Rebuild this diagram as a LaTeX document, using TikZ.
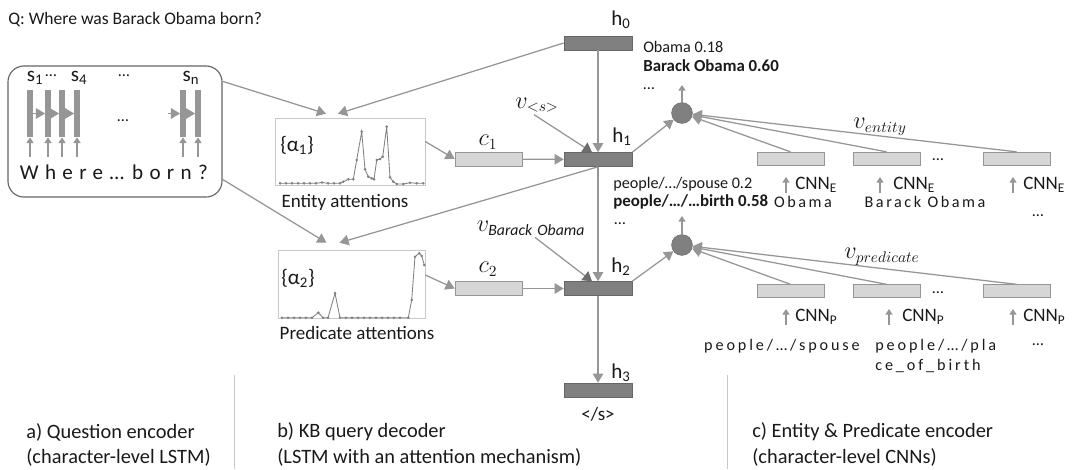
\documentclass[tikz,border=0pt]{standalone}
\usepackage{fontspec}
\setmainfont{Carlito}
\usetikzlibrary{arrows.meta,positioning,calc}
\definecolor{darkbox}{RGB}{128,128,128}
\definecolor{lightbox}{RGB}{214,214,214}
\definecolor{arrgray}{RGB}{150,150,150}
\definecolor{framegray}{RGB}{100,100,100}
\definecolor{sepgray}{RGB}{200,200,200}
\definecolor{ink}{RGB}{25,25,25}

\begin{document}
\begin{tikzpicture}[x=0.025cm,y=-0.025cm,
  every node/.style={font=\fontsize{12.5}{14}\selectfont,inner sep=0pt,text=ink},
  hbox/.style={draw=darkbox!80!black,fill=darkbox,minimum width=1.7cm,minimum height=0.35cm},
  cbox/.style={draw=arrgray,fill=lightbox,minimum width=1.675cm,minimum height=0.34cm},
  sbox/.style={draw=arrgray,fill=lightbox,minimum width=1.675cm,minimum height=0.32cm},
  score/.style={circle,draw=darkbox!85!black,fill=darkbox,minimum size=0.52cm},
  plotframe/.style={draw=sepgray,line width=0.4pt},
  ln/.style={draw=arrgray,line width=0.9pt},
  arr/.style={ln,-{Triangle[width=7.5pt,length=6.5pt]}},
  varr/.style={ln,-{Triangle[width=8pt,length=6.5pt,color=darkbox!85!black]}},
  smallarr/.style={ln,-{Triangle[width=5pt,length=4pt]}},
  small/.style={font=\fontsize{11.5}{13}\selectfont},
  bsmall/.style={font=\fontsize{12}{13}\selectfont\bfseries},
  spaced/.style={font=\fontsize{11.5}{13}\selectfont\addfontfeature{LetterSpace=18}},
  espaced/.style={font=\fontsize{11.5}{13}\selectfont\addfontfeature{LetterSpace=16}},
  lab/.style={font=\fontsize{13.5}{15}\selectfont},
  hlab/.style={font=\fontsize{15}{17}\selectfont},
  mlab/.style={font=\fontsize{16}{18}\selectfont},
  caption/.style={font=\fontsize{14.5}{16}\selectfont,anchor=west},
]
\useasboundingbox (0,0) rectangle (1072,469);

% question
\node[anchor=west] (q) at (8,20) {Q: Where was Barack Obama born?};

% question encoder
\node[draw=framegray,line width=0.8pt,rounded corners=0.4cm,minimum width=5.35cm,minimum height=3.275cm] (enc) at (115,131.5) {};
\foreach \x [count=\i] in {30,48,62,77,183,198} {
  \node[fill=arrgray,minimum width=0.13cm,minimum height=1.18cm] (bar\i) at (\x,113.5) {};
  \coordinate (in\i) at (\x,157);
  \draw[smallarr] (in\i) -- (bar\i.south);
}
\foreach \a/\b in {1/2,2/3,3/4,5/6}
  \draw[arr] (bar\a) -- (bar\b);
\coordinate (pre5) at (168,113.5);
\draw[arr] (pre5) -- (bar5);
\node[hlab] (s1) at (35,78) {s\textsubscript{1}};
\node[small] (sd1) at (51,76) {…};
\node[hlab] (s4) at (79,78) {s\textsubscript{4}};
\node[small] (sd2) at (124,76) {…};
\node[hlab] (sn) at (191,78) {s\textsubscript{n}};
\node[small] (md) at (123,121) {…};
\node[font=\fontsize{15}{17}\selectfont\addfontfeature{LetterSpace=30}] (w1) at (72,172) {Where…};
\node[font=\fontsize{15}{17}\selectfont\addfontfeature{LetterSpace=30}] (w2) at (170,172) {born?};

% attention plots
\node[plotframe,minimum width=3.75cm,minimum height=1.675cm] (entplot) at (350,151.5) {};
\draw[darkbox,line width=0.6pt,mark=*,mark size=0.6pt] plot coordinates {
  (280,183.3) (286,183.3) (292,183.3) (298,183.3) (304,183.3) (310,183.3) (316,183.3)
  (322,182.5) (328,183.3) (334,183.3) (340,183.3) (343.3,181.7) (348.3,179.3)
  (353.3,179.3) (356.7,160) (361.7,131.7) (365,169.3) (368.3,176.7) (371.7,178.3)
  (374,179.3) (376.7,160) (380,159) (382.7,156.7) (386.7,126.7) (390,177.3)
  (393.3,181.7) (396.7,184) (403.3,184) (410,182.7) (416.7,183.3) (423.3,183.3)};
\node[hlab] (a1) at (297,145) {\{α\textsubscript{1}\}};
\node[lab] (enttxt) at (345,202) {Entity attentions};

\node[plotframe,minimum width=3.675cm,minimum height=1.7cm] (predplot) at (351.5,284) {};
\draw[darkbox,line width=0.6pt,mark=*,mark size=0.6pt] plot coordinates {
  (282,317.7) (288,317.7) (294,317.7) (300,317.7) (306,317.7) (312,317.7)
  (318.3,312.7) (323,317.7) (328,317.7) (335,293.3) (340,317.7) (346,317.7)
  (352,317.7) (358,317.7) (364,317.7) (370,317.7) (376,317.7) (382,317.7)
  (388,317.7) (394,317.7) (400,317.7) (408.3,317.7) (411.7,300) (415,256.7)
  (419.3,253.3) (421.7,256) (424.3,265)};
\node[hlab] (a2) at (298,278) {\{α\textsubscript{2}\}};
\node[lab] (predtxt) at (357,333) {Predicate attentions};

% KB query decoder
\node[hbox] (h0) at (598,43) {};
\node[hbox] (h1) at (598,159.5) {};
\node[hbox] (h2) at (598,288.5) {};
\node[hbox] (h3) at (598,390) {};
\node[hlab] (h0l) at (621,20) {h\textsubscript{0}};
\node[hlab] (h1l) at (622,137) {h\textsubscript{1}};
\node[hlab] (h2l) at (621,267) {h\textsubscript{2}};
\node[hlab] (h3l) at (621,373) {h\textsubscript{3}};
\node[lab] (eos) at (598,414) {</s>};
\node[cbox] (c1) at (488.5,159) {};
\node[cbox] (c2) at (488.5,288.5) {};
\node[mlab] (c1l) at (488,142) {$c_1$};
\node[mlab] (c2l) at (488,269) {$c_2$};
\node[mlab] (vs) at (537,105) {$v_{<s>}$};
\node[mlab] (vbo) at (531,228) {$v_{\mathit{Barack\ Obama}}$};

\draw[arr] (enc.25) -- ($(entplot.north)+(-24,-4)$);
\draw[arr] (h0.west) -- ($(entplot.north)+(-12,-4)$);
\draw[arr] (enc.-24) -- ($(predplot.north)+(-25,-7)$);
\draw[arr] (h1.south) -- ($(predplot.north)+(-12,-7)$);
\draw[arr] ($(entplot.east)+(0,-10)$) -- (c1.west);
\draw[arr] ($(predplot.east)+(0,-9)$) -- (c2.west);
\draw[arr] (c1) -- (h1);
\draw[arr] (c2) -- (h2);
\draw[arr] (h0.south) -- (h1.north);
\draw[arr] (h1.south) -- (h2.north);
\draw[arr] (h2.south) -- (h3.north);
\draw[varr] ($(vs.south)+(-3,2)$) -- ($(h1.north)+(-6,0)$);
\draw[varr] ($(vbo.south)+(4,2)$) -- ($(h2.north)+(-6,0)$);

% scoring
\node[score] (sc1) at (682,113) {};
\node[score] (sc2) at (682,245) {};
\coordinate (o1) at (682,85);
\coordinate (o2) at (682,216);
\draw[smallarr] (sc1) -- (o1);
\draw[smallarr] (sc2) -- (o2);
\draw[arr] (h1.north east) -- (sc1);
\draw[arr] (h2.north east) -- (sc2);
\node[small,anchor=west] (r1) at (643,47) {Obama 0.18};
\node[bsmall,anchor=west] (r2) at (643,66) {Barack Obama 0.60};
\node[small,anchor=west] (r3) at (643,89) {…};
\node[small,anchor=west] (r4) at (613,184) {people/…/spouse 0.2};
\node[bsmall,anchor=west] (r5) at (613,202) {people/…/…birth 0.58};
\node[small,anchor=west] (r6) at (614,224) {…};

% entity & predicate encoder
\node[sbox] (e1) at (790.5,158.5) {};
\node[sbox] (e2) at (886.5,158.5) {};
\node[sbox] (e3) at (1016.5,158.5) {};
\node[sbox] (p1) at (790.5,291) {};
\node[sbox] (p2) at (886.5,291) {};
\node[sbox] (p3) at (1016.5,291) {};
\node[small] (ed) at (938,160) {…};
\node[small] (pd) at (938,293) {…};
\foreach \b in {e1,e2,e3} \draw[arr] (\b.north) -- (sc1);
\foreach \b in {p1,p2,p3} \draw[arr] (\b.north) -- (sc2);
\node[mlab] (vent) at (880,127) {$v_{entity}$};
\node[mlab] (vpred) at (882,257) {$v_{predicate}$};

\foreach \x/\t [count=\i] in {786/795,880/893,1013/1023} {
  \coordinate (ea\i) at (\x,193);
  \coordinate (eb\i) at (\x,177);
  \draw[smallarr] (ea\i) -- (eb\i);
  \node[lab,anchor=west] (cnne\i) at (\t,185) {CNN\textsubscript{E}};
}
\foreach \x/\t [count=\i] in {786/795,889/902,1013/1023} {
  \coordinate (pa\i) at (\x,325);
  \coordinate (pb\i) at (\x,309);
  \draw[smallarr] (pa\i) -- (pb\i);
  \node[lab,anchor=west] (cnnp\i) at (\t,317) {CNN\textsubscript{P}};
}
\node[espaced] (en1) at (803,202) {Obama};
\node[espaced] (en2) at (925,202) {Barack Obama};
\node[small] (en3) at (1038,216) {…};
\node[spaced] (pn1) at (782,346) {people/…/spouse};
\node[spaced,anchor=west] (pn2) at (875,346) {people/…/pla};
\node[spaced,anchor=west] (pn2b) at (875,366) {ce\_of\_birth};
\node[small] (pn3) at (1038,345) {…};

% captions
\draw[sepgray,line width=0.6pt] (234,375) -- (234,469);
\draw[sepgray,line width=0.6pt] (727,375) -- (727,469);
\node[caption] (capa) at (26,432) {a) Question encoder};
\node[caption] (capa2) at (26,457) {(character-level LSTM)};
\node[caption] (capb) at (277,432) {b) KB query decoder};
\node[caption] (capb2) at (277,457) {(LSTM with an attention mechanism)};
\node[caption] (capc) at (752,432) {c) Entity \& Predicate encoder};
\node[caption] (capc2) at (752,457) {(character-level CNNs)};
\end{tikzpicture}
\end{document}
